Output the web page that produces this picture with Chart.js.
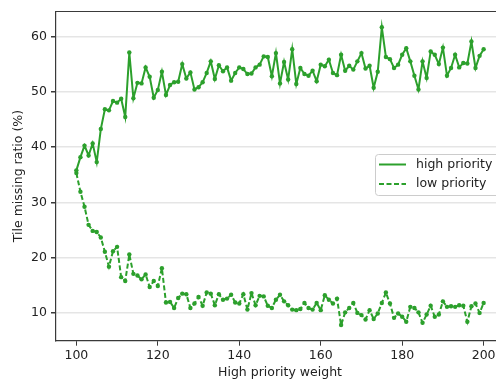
<!DOCTYPE html>
<html>
<head>
<meta charset="utf-8">
<script src="https://cdn.jsdelivr.net/npm/chart.js@4/dist/chart.umd.min.js"></script>
<style>
    html, body { margin: 0; padding: 0; background: #fff; overflow: hidden; }
    #wrap { width: 496px; height: 383px; overflow: hidden; }
</style>
</head>
<body>
<div id="wrap"><canvas id="missChart" width="508" height="383"></canvas></div>
<script>
// High priority weight (x axis)
const weights = [
    100, 101, 102, 103, 104, 105, 106, 107, 108, 109,
    110, 111, 112, 113, 114, 115, 116, 117, 118, 119,
    120, 121, 122, 123, 124, 125, 126, 127, 128, 129,
    130, 131, 132, 133, 134, 135, 136, 137, 138, 139,
    140, 141, 142, 143, 144, 145, 146, 147, 148, 149,
    150, 151, 152, 153, 154, 155, 156, 157, 158, 159,
    160, 161, 162, 163, 164, 165, 166, 167, 168, 169,
    170, 171, 172, 173, 174, 175, 176, 177, 178, 179,
    180, 181, 182, 183, 184, 185, 186, 187, 188, 189,
    190, 191, 192, 193, 194, 195, 196, 197, 198, 199,
    200
];

// Tile missing ratio (%) for high priority tiles
const highPriority = [
    35.8, 38.2, 40.3, 38.5, 40.7, 37.3, 43.3, 46.9, 46.7, 48.4,
    48.1, 48.8, 45.5, 57.2, 48.9, 51.7, 51.6, 54.5, 52.8, 49.0,
    50.4, 53.7, 49.5, 51.3, 51.8, 51.9, 55.1, 52.5, 53.6, 50.5,
    50.9, 51.8, 53.5, 55.6, 52.4, 54.9, 53.8, 54.5, 52.1, 53.5,
    54.5, 54.2, 53.3, 53.4, 54.5, 55.0, 56.5, 56.4, 52.9, 57.1,
    51.6, 55.5, 52.3, 57.8, 51.5, 54.4, 53.3, 53.0, 53.9, 52.0,
    55.0, 54.7, 55.9, 53.5, 53.1, 56.8, 53.9, 54.8, 54.1, 55.6,
    57.1, 54.3, 54.8, 50.8, 53.7, 61.8, 56.4, 56.0, 54.4, 55.0,
    56.8, 58.0, 55.6, 53.0, 50.5, 55.6, 52.6, 57.4, 56.8, 55.1,
    58.1, 53.0, 54.4, 56.8, 54.5, 55.3, 55.2, 59.2, 54.4, 56.6,
    57.8
];

// Tile missing ratio (%) for low priority tiles
const lowPriority = [
    35.3, 31.9, 29.2, 25.9, 24.8, 24.6, 23.6, 21.0, 18.3, 21.1,
    21.9, 16.4, 15.7, 20.5, 17.0, 16.7, 16.0, 16.9, 14.6, 15.7,
    14.8, 18.0, 11.8, 11.9, 10.8, 12.6, 13.4, 13.3, 10.8, 11.6,
    12.8, 11.2, 13.6, 13.4, 11.3, 13.3, 12.3, 12.5, 13.2, 11.8,
    11.6, 13.3, 10.5, 13.5, 11.3, 13.0, 12.9, 11.2, 10.8, 12.3,
    13.2, 12.0, 11.3, 10.5, 10.4, 10.6, 11.7, 10.8, 10.5, 11.7,
    10.4, 13.1, 12.3, 11.6, 12.5, 7.7, 10.0, 10.8, 11.7, 9.9,
    9.5, 8.7, 10.4, 8.8, 9.8, 11.7, 13.6, 11.6, 9.0, 9.8,
    9.2, 8.3, 11.0, 10.8, 10.0, 8.1, 9.6, 11.2, 9.2, 9.6,
    12.0, 11.0, 11.1, 11.0, 11.3, 11.2, 8.3, 11.1, 11.6, 9.9,
    11.7
];

const xTicks = [100, 120, 140, 160, 180, 200];
const yTicks = [10, 20, 30, 40, 50, 60];

const green = '#2ca02c';
const spine = '#3a3a3a';
const fontFamily = '"DejaVu Sans", sans-serif';

// Top spine + framed legend in the center right, like matplotlib
const frameAndLegend = {
    id: 'frameAndLegend',
    afterDraw(chart) {
        const ctx = chart.ctx;
        const area = chart.chartArea;
        ctx.save();
        ctx.strokeStyle = spine;
        ctx.lineWidth = 1.2;
        ctx.beginPath();
        ctx.moveTo(area.left, area.top);
        ctx.lineTo(area.right, area.top);
        ctx.stroke();

        // legend box
        const bx = 375.5, by = 154.5, bw = 140, bh = 41;
        ctx.fillStyle = 'rgba(255,255,255,0.8)';
        ctx.strokeStyle = '#cccccc';
        ctx.lineWidth = 1;
        ctx.beginPath();
        ctx.roundRect(bx, by, bw, bh, 3);
        ctx.fill();
        ctx.stroke();

        const rows = [
            { label: 'high priority', dash: [], y: 164.5 },
            { label: 'low priority', dash: [5, 2.5], y: 184 }
        ];
        ctx.font = '12.5px ' + fontFamily;
        ctx.textBaseline = 'middle';
        ctx.textAlign = 'left';
        rows.forEach(r => {
            ctx.strokeStyle = green;
            ctx.lineWidth = 2;
            ctx.setLineDash(r.dash);
            ctx.beginPath();
            ctx.moveTo(379, r.y);
            ctx.lineTo(406, r.y);
            ctx.stroke();
            ctx.setLineDash([]);
            ctx.fillStyle = '#222';
            ctx.fillText(r.label, 416, r.y);
        });
        ctx.restore();
    }
};

const ctx = document.getElementById('missChart').getContext('2d');
const missChart = new Chart(ctx, {
    type: 'line',
    data: {
        datasets: [{
            label: 'high priority',
            data: weights.map((w, i) => ({ x: w, y: highPriority[i] })),
            borderColor: green,
            backgroundColor: green,
            borderWidth: 2,
            pointRadius: 2.2,
            pointBorderWidth: 0,
            pointBackgroundColor: green,
            tension: 0,
            fill: false
        }, {
            label: 'low priority',
            data: weights.map((w, i) => ({ x: w, y: lowPriority[i] })),
            borderColor: green,
            backgroundColor: green,
            borderWidth: 2,
            borderDash: [5, 2.5],
            pointRadius: 2.2,
            pointBorderWidth: 0,
            pointBackgroundColor: green,
            tension: 0,
            fill: false
        }]
    },
    options: {
        responsive: false,
        animation: false,
        devicePixelRatio: 1,
        layout: {
            padding: { top: 7, right: 4, left: 0, bottom: 0 }
        },
        plugins: {
            legend: { display: false },
            tooltip: { enabled: false }
        },
        scales: {
            x: {
                type: 'linear',
                min: 95,
                max: 205,
                afterBuildTicks: scale => {
                    scale.ticks = xTicks.map(v => ({ value: v }));
                },
                afterFit: scale => { scale.height = 42.3; },
                border: { display: true, color: spine, width: 1.2 },
                grid: {
                    drawOnChartArea: false,
                    drawTicks: true,
                    tickLength: 5,
                    tickColor: spine
                },
                ticks: {
                    color: '#222',
                    padding: 3,
                    maxRotation: 0,
                    font: { family: fontFamily, size: 12.5 }
                },
                title: {
                    display: true,
                    text: 'High priority weight',
                    color: '#222',
                    padding: { top: 0, bottom: 3 },
                    font: { family: fontFamily, size: 12.5 }
                }
            },
            y: {
                type: 'linear',
                min: 4.85,
                max: 64.66,
                afterBuildTicks: scale => {
                    scale.ticks = yTicks.map(v => ({ value: v }));
                },
                afterFit: scale => { scale.width = 56; },
                border: { display: true, color: spine, width: 1.2 },
                grid: {
                    color: '#e5e5e5',
                    lineWidth: 1.5,
                    drawTicks: true,
                    tickLength: 5,
                    tickColor: spine
                },
                ticks: {
                    color: '#222',
                    padding: 4,
                    font: { family: fontFamily, size: 12.5 }
                },
                title: {
                    display: true,
                    text: 'Tile missing ratio (%)',
                    color: '#222',
                    padding: { top: 11.5, bottom: 0 },
                    font: { family: fontFamily, size: 12.5 }
                }
            }
        }
    },
    plugins: [frameAndLegend]
});
</script>
</body>
</html>
